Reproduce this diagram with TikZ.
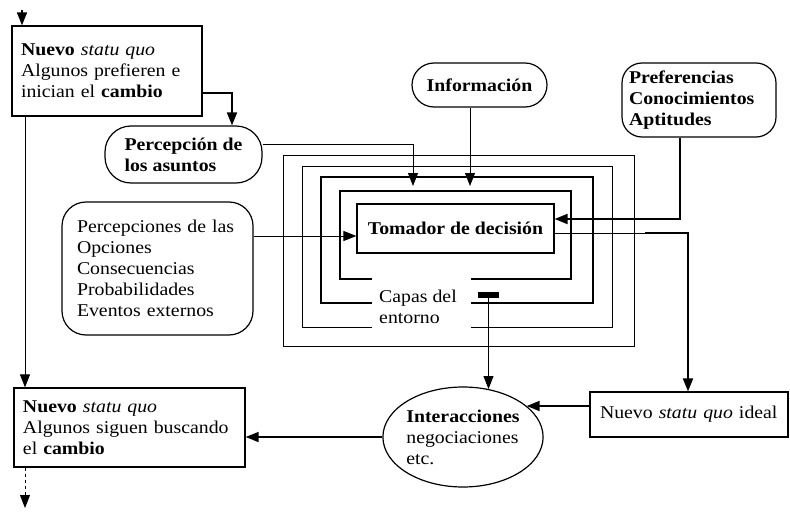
\documentclass[tikz,border=0pt]{standalone}
\usepackage{fontspec}
\setmainfont{Liberation Serif}[FakeStretch=1.1]
\usetikzlibrary{arrows.meta,shapes.geometric}
\begin{document}
\begin{tikzpicture}[x=1pt,y=-1pt,
  txt/.style={font=\fontsize{18}{21}\selectfont},
  btxt/.style={font=\fontsize{18}{21}\selectfont\bfseries},
  box/.style={draw,line width=1.2pt,inner ysep=3pt,txt},
  rbox/.style={box,rounded corners=#1},
  arr/.style={-{Triangle[length=13pt,width=10pt]}},
  lthin/.style={line width=0.9pt},
  lmed/.style={line width=1.4pt},
  lthick/.style={line width=1.9pt},
  layerthin/.style={line width=1pt},
  layerthick/.style={line width=1.7pt}
]
\useasboundingbox (0,0) rectangle (790,514);

% environment layers
\draw[layerthin] (283,155) rectangle (634,346);
\draw[layerthin] (372,327) -- (302,327) -- (302,166) -- (612,166) -- (612,327) -- (471,327);
\draw[layerthick] (372,303) -- (321,303) -- (321,177) -- (593,177) -- (593,303) -- (471,303);
\draw[layerthick] (372,279) -- (340,279) -- (340,191) -- (571,191) -- (571,279) -- (471,279);

% nodes
\node[box,text width=172pt,inner xsep=9pt,minimum height=90pt,align=left] (topbox) at (107,71)
  {\textbf{Nuevo} \textit{statu quo}\\Algunos prefieren e\\inician el \textbf{cambio}};
\node[rbox=26pt,btxt,minimum width=157pt,minimum height=57pt,align=left] (percA) at (183.5,154.5)
  {Percepción de\\los asuntos};
\node[rbox=22pt,btxt,minimum width=135pt,minimum height=44pt] (info) at (479.5,85) {Información};
\node[rbox=20pt,btxt,text width=140pt,inner xsep=7pt,minimum height=74pt,align=left] (pref) at (699,100)
  {Preferencias\\Conocimientos\\Aptitudes};
\node[rbox=24pt,text width=161pt,inner xsep=15pt,minimum height=133pt,align=left] (percO) at (157.5,268.5)
  {Percepciones de las\\Opciones\\Consecuencias\\Probabilidades\\Eventos externos};
\node[box,btxt,minimum width=197pt,minimum height=49pt] (tom) at (455.5,228.5) {Tomador de decisión};
\node[txt,inner sep=0pt,align=left] (capas) at (418,307) {Capas del\\entorno};
\node[fill=black,draw=none,minimum width=21pt,minimum height=6pt,inner sep=0pt] (bar) at (488.5,295) {};
\node[ellipse,draw,line width=1.2pt,txt,minimum width=160pt,minimum height=100pt,inner sep=0pt,align=left] (inter) at (463,437)
  {\textbf{Interacciones}\\negociaciones\\etc.};
\node[box,text width=178pt,inner xsep=10pt,minimum height=45pt,align=left] (ideal) at (689,414.5)
  {Nuevo \textit{statu quo} ideal};
\node[box,text width=213pt,inner xsep=9pt,minimum height=79pt,align=left] (botbox) at (129.5,427.5)
  {\textbf{Nuevo} \textit{statu quo}\\Algunos siguen buscando\\el \textbf{cambio}};

% connectors
\coordinate (topin) at (22,10);
\draw[lmed,arr] (topin) -- (topin |- topbox.north);
\draw[lthick,arr] ([yshift=-22pt]topbox.east) -| ([xshift=48.5pt]percA.north);
\draw[lthin,arr] ([xshift=-82pt]topbox.south) -- ([xshift=-82pt]topbox.south |- botbox.north);
\coordinate (botout) at (25,508);
\draw[lthin,dash pattern=on 3pt off 3pt,arr] ([xshift=-104.5pt]botbox.south) -- (botout);

\coordinate (inA) at (413,186);
\coordinate (inB) at (470,186);
\draw[lthin,arr] ([yshift=10.5pt]percA.east) -| (inA);
\draw[lthin,arr] (inB |- info.south) -- (inB);
\draw[lthick,arr] ([xshift=-19pt]pref.south) |- ([yshift=9.5pt]tom.east);
\coordinate (tw) at ([yshift=-7.5pt]tom.west);
\draw[lthin,arr] (percO.east |- tw) -- (tw);

\coordinate (te) at ([yshift=-4.5pt]tom.east);
\coordinate (tb) at (645,233);
\draw[lthin] (te) -- (tb);
\draw[lthick,arr] (tb) -| ([xshift=-1pt]ideal.north);

\draw[lthin,arr] (bar.south) -- (bar.south |- inter.62);
\coordinate (iw) at ([yshift=8.5pt]ideal.west);
\draw[lthick,arr] (iw) -- (iw -| inter.26);
\draw[lmed,arr] (inter.west) -- (inter.west -| botbox.east);
\end{tikzpicture}
\end{document}
